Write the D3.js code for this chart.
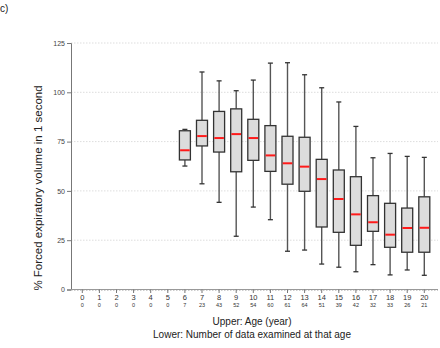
<!DOCTYPE html>
<html>
<head>
<meta charset="utf-8">
<script src="https://cdn.jsdelivr.net/npm/d3@7"></script>
<style>
  body { margin: 0; background: #fff; }
  svg text { font-family: "Liberation Sans", Arial, sans-serif; }
</style>
</head>
<body>
<div id="chart"></div>
<script>
// ages and number of data examined
var ages   = [0,1,2,3,4,5,6,7,8,9,10,11,12,13,14,15,16,17,18,19,20];
var counts = [0,0,0,0,0,0,7,23,43,52,54,60,61,64,51,39,42,32,33,26,21];

// box stats (null where no data)
var whiskerLow  = [null,null,null,null,null,null,62.6,53.6,44.2,27.0,41.8,35.4,19.4,20.0,12.9,11.3, 9.0,12.6, 7.4, 9.9, 7.2];
var boxLow      = [null,null,null,null,null,null,65.7,72.8,69.7,59.7,65.5,59.9,53.4,49.8,31.7,29.0,22.4,29.5,21.4,18.9,18.9];
var medians     = [null,null,null,null,null,null,70.6,77.8,76.8,78.8,76.8,68.0,64.0,62.3,56.0,45.9,38.1,34.1,27.8,31.2,31.3];
var boxHigh     = [null,null,null,null,null,null,80.5,85.8,90.3,91.6,86.3,83.1,77.7,77.2,66.0,60.6,57.2,47.6,43.7,41.3,47.0];
var whiskerHigh = [null,null,null,null,null,null,81.2,110.3,105.8,100.8,106.2,114.8,115.0,108.9,102.3,95.1,82.7,66.8,69.0,67.5,67.0];

var yTicks = [0,25,50,75,100,125];

function buildGraph() {
  var svg = d3.select("#chart").append("svg")
      .attr("width", 440)
      .attr("height", 348);

  var plot = {left: 71, right: 438, top: 43, bottom: 289.5};

  var x = d3.scaleLinear().domain([0, 20]).range([82.3, 424.3]);
  var y = d3.scaleLinear().domain([0, 125]).range([plot.bottom, plot.top]);

  // grid
  svg.append("g")
    .selectAll("line")
    .data(yTicks.filter(d => d > 0))
    .enter().append("line")
      .attr("x1", plot.left).attr("x2", plot.right)
      .attr("y1", d => y(d)).attr("y2", d => y(d))
      .attr("stroke", "#ddd")
      .attr("stroke-dasharray", "1.5,1.5")
      .attr("stroke-width", 1);

  // y axis
  var yAxis = svg.append("g")
      .attr("transform", "translate(" + plot.left + ",0)")
      .call(d3.axisLeft(y).tickValues(yTicks).tickSize(4).tickPadding(2));
  yAxis.select(".domain").attr("stroke", "#777");
  yAxis.selectAll(".tick line").attr("stroke", "#777");
  yAxis.selectAll("text").attr("font-size", 7).attr("fill", "#444")
      .attr("font-family", "Liberation Sans, Arial, sans-serif");

  // x axis
  var xAxis = svg.append("g")
      .attr("transform", "translate(0," + plot.bottom + ")");
  xAxis.append("line")
      .attr("x1", plot.left).attr("x2", plot.right)
      .attr("stroke", "#999");
  xAxis.append("line")
      .attr("x1", plot.left).attr("x2", plot.right)
      .attr("y1", 1).attr("y2", 1)
      .attr("stroke", "#ccc")
      .attr("stroke-dasharray", "1.5,1.5");
  var xt = xAxis.selectAll(".tick")
      .data(ages)
      .enter().append("g")
      .attr("transform", d => "translate(" + x(d) + ",0)");
  xt.append("line").attr("y2", 3.5).attr("stroke", "#777");
  xt.append("text")
      .attr("y", 10.5)
      .attr("text-anchor", "middle")
      .attr("font-size", 7.5)
      .attr("fill", "#333")
      .text(d => d);
  xt.append("text")
      .attr("y", 17.5)
      .attr("text-anchor", "middle")
      .attr("font-size", 5.5)
      .attr("fill", "#333")
      .text((d, i) => counts[i]);

  // boxes
  var bw = 11, cap = 5;
  var idx = ages.map((d, i) => i).filter(i => medians[i] != null);

  var box = svg.append("g").selectAll(".box")
      .data(idx)
      .enter().append("g")
      .attr("class", "box");

  box.append("line")
      .attr("x1", i => x(ages[i])).attr("x2", i => x(ages[i]))
      .attr("y1", i => y(whiskerHigh[i])).attr("y2", i => y(boxHigh[i]))
      .attr("stroke", "#555").attr("stroke-width", 1.4);
  box.append("line")
      .attr("x1", i => x(ages[i])).attr("x2", i => x(ages[i]))
      .attr("y1", i => y(boxLow[i])).attr("y2", i => y(whiskerLow[i]))
      .attr("stroke", "#555").attr("stroke-width", 1.4);
  box.append("line")
      .attr("x1", i => x(ages[i]) - cap / 2).attr("x2", i => x(ages[i]) + cap / 2)
      .attr("y1", i => y(whiskerHigh[i])).attr("y2", i => y(whiskerHigh[i]))
      .attr("stroke", "#333").attr("stroke-width", 1.3);
  box.append("line")
      .attr("x1", i => x(ages[i]) - cap / 2).attr("x2", i => x(ages[i]) + cap / 2)
      .attr("y1", i => y(whiskerLow[i])).attr("y2", i => y(whiskerLow[i]))
      .attr("stroke", "#333").attr("stroke-width", 1.3);
  box.append("rect")
      .attr("x", i => x(ages[i]) - bw / 2)
      .attr("width", bw)
      .attr("y", i => y(boxHigh[i]))
      .attr("height", i => y(boxLow[i]) - y(boxHigh[i]))
      .attr("fill", "#dcdcdc")
      .attr("stroke", "#333")
      .attr("stroke-width", 1.3);
  box.append("line")
      .attr("x1", i => x(ages[i]) - bw / 2 + 0.7).attr("x2", i => x(ages[i]) + bw / 2 - 0.7)
      .attr("y1", i => y(medians[i])).attr("y2", i => y(medians[i]))
      .attr("stroke", "#ff1a1a").attr("stroke-width", 2);

  // labels
  svg.append("text")
      .attr("x", 0).attr("y", 12)
      .attr("font-size", 10)
      .attr("fill", "#222")
      .text("c)");

  svg.append("text")
      .attr("transform", "translate(42,188) rotate(-90)")
      .attr("text-anchor", "middle")
      .attr("font-size", 11.5)
      .attr("fill", "#222")
      .text("% Forced expiratory volume in 1 second");

  svg.append("text")
      .attr("x", 252).attr("y", 325)
      .attr("text-anchor", "middle")
      .attr("font-size", 10)
      .attr("fill", "#222")
      .text("Upper: Age (year)");

  svg.append("text")
      .attr("x", 252).attr("y", 338)
      .attr("text-anchor", "middle")
      .attr("font-size", 10)
      .attr("fill", "#222")
      .text("Lower: Number of data examined at that age");
}

buildGraph();
</script>
</body>
</html>
